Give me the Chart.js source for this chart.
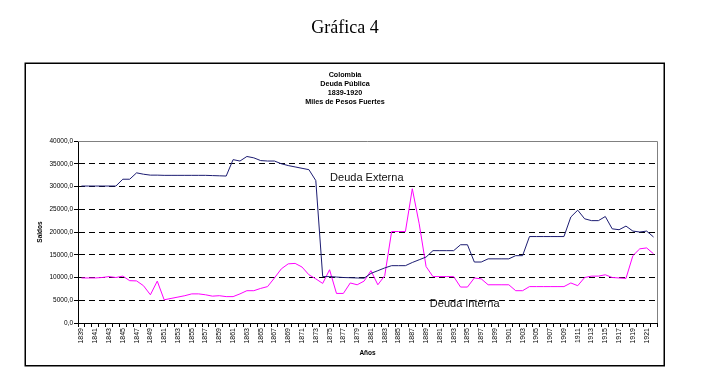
<!DOCTYPE html>
<html>
<head>
<meta charset="utf-8">
<title>Gráfica 4</title>
<script src="https://cdn.jsdelivr.net/npm/chart.js@4.4.0/dist/chart.umd.min.js"></script>
<style>
  html, body { margin: 0; padding: 0; background: #fff; }
  #wrap { width: 715px; height: 385px; }
</style>
</head>
<body>
<div id="wrap"><canvas id="deudaChart" width="715" height="385"></canvas></div>
<script>
// años 1839 - 1922
const years = [
  '1839','1840','1841','1842','1843','1844','1845','1846','1847','1848',
  '1849','1850','1851','1852','1853','1854','1855','1856','1857','1858',
  '1859','1860','1861','1862','1863','1864','1865','1866','1867','1868',
  '1869','1870','1871','1872','1873','1874','1875','1876','1877','1878',
  '1879','1880','1881','1882','1883','1884','1885','1886','1887','1888',
  '1889','1890','1891','1892','1893','1894','1895','1896','1897','1898',
  '1899','1900','1901','1902','1903','1904','1905','1906','1907','1908',
  '1909','1910','1911','1912','1913','1914','1915','1916','1917','1918',
  '1919','1920','1921','1922'
];

const deudaExterna = [
  30100, 30100, 30100, 30100, 30100, 30100, 31600, 31600, 33000, 32700,
  32500, 32500, 32450, 32450, 32450, 32450, 32450, 32450, 32450, 32400,
  32350, 32300, 35900, 35600, 36600, 36300, 35700, 35600, 35600, 35000,
  34600, 34300, 34000, 33700, 31300, 10200, 10200, 10100, 10000, 9950,
  9900, 9850, 10900, 11500, 12100, 12600, 12600, 12600, 13300, 13900,
  14500, 15900, 15900, 15900, 15900, 17200, 17200, 13400, 13400, 14100,
  14100, 14100, 14100, 14800, 14800, 19000, 19000, 19000, 19000, 19000,
  19000, 23300, 24800, 22900, 22500, 22500, 23400, 20700, 20500, 21300,
  20200, 20000, 20200, 18900
];

const deudaInterna = [
  9900, 9900, 9900, 10000, 10200, 10000, 10300, 9300, 9250, 8200,
  6200, 9200, 5100, 5400, 5700, 6000, 6400, 6400, 6200, 5900,
  6000, 5800, 5800, 6400, 7100, 7100, 7600, 8000, 9900, 11900,
  13000, 13100, 12300, 10600, 9700, 8700, 11700, 6500, 6500, 8800,
  8400, 9200, 11500, 8400, 10400, 20100, 20100, 20100, 29500, 21800,
  12400, 10200, 10200, 10200, 10200, 7900, 7900, 9900, 9700, 8400,
  8400, 8400, 8400, 7100, 7100, 8000, 8000, 8000, 8000, 8000,
  8000, 8800, 8200, 10000, 10300, 10300, 10600, 10000, 9900, 9800,
  14800, 16300, 16500, 15200
];

const yTickValues = [0, 5000, 10000, 15000, 20000, 25000, 30000, 35000, 40000];
const chartTitleLines = ['Colombia', 'Deuda Pública', '1839-1920', 'Miles de Pesos Fuertes'];

const SANS = '"Liberation Sans", Arial, sans-serif';
Chart.defaults.font.family = SANS;
Chart.defaults.color = '#000';

const framePlugin = {
  id: 'frame',
  beforeDraw(chart) {
    const ctx = chart.ctx;
    ctx.save();
    ctx.fillStyle = '#fff';
    ctx.fillRect(0, 0, chart.width, chart.height);

    ctx.fillStyle = '#000';
    ctx.textAlign = 'center';
    ctx.textBaseline = 'middle';
    ctx.font = '18px "Liberation Serif", "Times New Roman", serif';
    ctx.fillText('Gráfica 4', 345, 28);

    ctx.strokeStyle = '#000';
    ctx.lineWidth = 1.5;
    ctx.strokeRect(25.25, 63.25, 639, 302.5);

    ctx.font = 'bold 7.2px ' + SANS;
    chartTitleLines.forEach((t, i) => ctx.fillText(t, 345, 75.5 + i * 9));
    ctx.restore();
  },
  beforeDatasetsDraw(chart) {
    const {ctx, chartArea: a} = chart;
    ctx.save();
    ctx.strokeStyle = '#808080';
    ctx.lineWidth = 1;
    ctx.beginPath();
    ctx.moveTo(a.left, a.top + 0.5);
    ctx.lineTo(a.right + 0.5, a.top + 0.5);
    ctx.lineTo(a.right + 0.5, a.bottom);
    ctx.stroke();
    ctx.restore();
  },
  afterDatasetsDraw(chart) {
    const ctx = chart.ctx;
    const xs = chart.scales.x, ys = chart.scales.y;
    const notes = [
      {text: 'Deuda Externa', at: 41.4, value: 31800},
      {text: 'Deuda Interna', at: 55.6, value: 4200}
    ];
    ctx.save();
    ctx.fillStyle = '#111';
    ctx.font = '11px ' + SANS;
    ctx.textAlign = 'center';
    ctx.textBaseline = 'middle';
    notes.forEach(n => {
      ctx.fillText(n.text, xs.getPixelForValue(n.at), ys.getPixelForValue(n.value));
    });
    ctx.restore();
  }
};

const ctx = document.getElementById('deudaChart');
new Chart(ctx, {
  type: 'line',
  data: {
    labels: years,
    datasets: [
      {
        label: 'Deuda Externa',
        data: deudaExterna,
        borderColor: '#1c1c72',
        borderWidth: 1,
        pointRadius: 0,
        tension: 0,
        fill: false
      },
      {
        label: 'Deuda Interna',
        data: deudaInterna,
        borderColor: '#ff00ff',
        borderWidth: 1,
        pointRadius: 0,
        tension: 0,
        fill: false
      }
    ]
  },
  options: {
    responsive: false,
    devicePixelRatio: 1,
    animation: false,
    layout: { padding: { left: 25, right: 58, top: 141, bottom: 19 } },
    plugins: {
      legend: { display: false },
      title: { display: false },
      tooltip: { enabled: false }
    },
    scales: {
      x: {
        type: 'category',
        offset: true,
        afterFit(scale) { scale.height = 43; },
        grid: {
          offset: true,
          drawOnChartArea: false,
          drawTicks: true,
          tickLength: 4,
          color: '#000',
          tickColor: '#000'
        },
        border: { display: true, color: '#000', width: 1 },
        ticks: {
          autoSkip: false,
          minRotation: 90,
          maxRotation: 90,
          padding: 1,
          font: { size: 7 },
          callback: (v, i) => (i % 2 === 0 ? years[i] : '')
        },
        title: {
          display: true,
          text: 'Años',
          font: { size: 6.5, weight: 'bold' },
          padding: { top: 0, bottom: 9 }
        }
      },
      y: {
        min: 0,
        max: 40000,
        afterFit(scale) { scale.width = 53; },
        afterBuildTicks(scale) { scale.ticks = yTickValues.map(v => ({ value: v })); },
        grid: {
          drawOnChartArea: true,
          drawTicks: true,
          tickLength: 4,
          tickBorderDash: [],
          lineWidth: 1,
          color: c => (c.tick && (c.tick.value === 0 || c.tick.value === 40000) ? 'rgba(0,0,0,0)' : '#000'),
          tickColor: '#000'
        },
        border: { display: true, color: '#000', width: 1, dash: [6, 4] },
        ticks: {
          padding: 1,
          font: { size: 6.5 },
          callback: v => v.toFixed(1).replace('.', ',')
        },
        title: {
          display: true,
          text: 'Saldos',
          font: { size: 6.5, weight: 'bold' },
          padding: { top: 11.5, bottom: 0 }
        }
      }
    }
  },
  plugins: [framePlugin]
});
</script>
</body>
</html>
